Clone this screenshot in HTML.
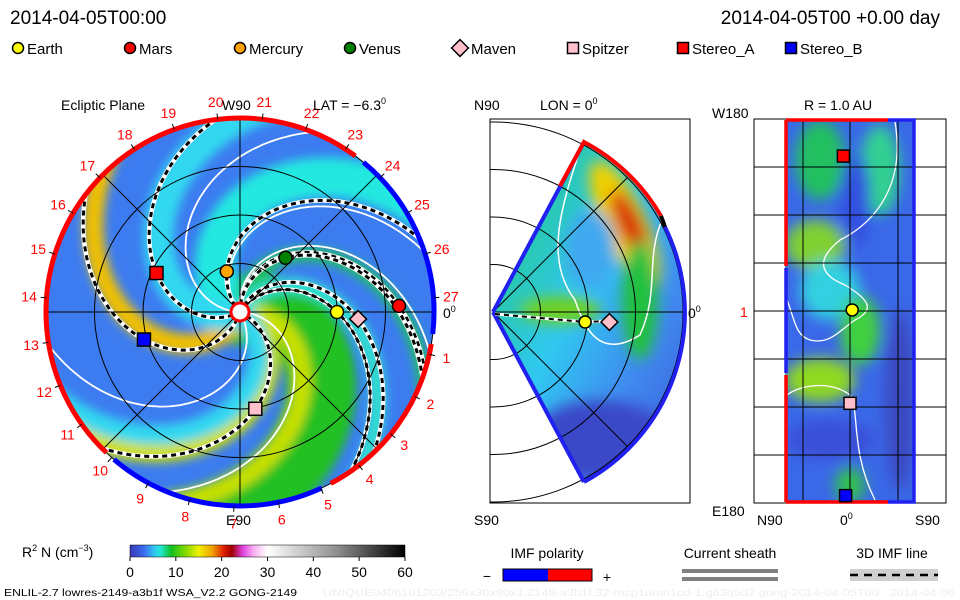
<!DOCTYPE html>
<html><head><meta charset="utf-8">
<style>
body{margin:0;background:#fff;}
svg{display:block;font-family:"Liberation Sans",sans-serif;}
</style></head>
<body>
<svg id="s" width="960" height="600" viewBox="0 0 960 600" xmlns="http://www.w3.org/2000/svg">
<defs>
<filter id="bl" x="-20%" y="-20%" width="140%" height="140%"><feGaussianBlur stdDeviation="5"/></filter>
<filter id="bl2" x="-30%" y="-30%" width="160%" height="160%"><feGaussianBlur stdDeviation="7"/></filter>
<clipPath id="circ"><circle cx="240" cy="312" r="194"/></clipPath>
<clipPath id="wedge"><path d="M493,312 L584,142 A193,193 0 0 1 584,482 Z"/></clipPath>
<clipPath id="rectc"><rect x="785" y="120" width="130" height="382"/></clipPath>
<clipPath id="midbox"><rect x="490" y="119" width="200" height="384"/></clipPath>
<linearGradient id="cbar" x1="0" x2="1" y1="0" y2="0">
<stop offset="0" stop-color="#3a3ab8"/><stop offset="0.05" stop-color="#3a6af0"/><stop offset="0.09" stop-color="#30c8f0"/><stop offset="0.11" stop-color="#20e8d8"/><stop offset="0.15" stop-color="#10c020"/><stop offset="0.2" stop-color="#80d800"/><stop offset="0.25" stop-color="#f0f000"/><stop offset="0.3" stop-color="#f0a000"/><stop offset="0.34" stop-color="#e02000"/><stop offset="0.37" stop-color="#a00000"/><stop offset="0.41" stop-color="#e040e0"/><stop offset="0.45" stop-color="#f8b0f0"/><stop offset="0.5" stop-color="#ffffff"/><stop offset="0.75" stop-color="#909090"/><stop offset="1" stop-color="#000000"/>
</linearGradient>
<linearGradient id="midg" x1="0" x2="1" y1="0" y2="1">
<stop offset="0" stop-color="#20c860"/><stop offset="0.45" stop-color="#30c8f0"/><stop offset="0.7" stop-color="#4088f0"/><stop offset="1" stop-color="#3a50d0"/>
</linearGradient>
</defs>

<text x="10" y="24" font-size="19">2014-04-05T00:00</text>
<text x="940" y="24" font-size="19" text-anchor="end">2014-04-05T00 +0.00 day</text>

<g id="legend"></g>

<!-- left panel -->
<g>
<g clip-path="url(#circ)">
<circle cx="240" cy="312" r="194" fill="#3c7cf0"/>
<g id="arms" filter="url(#bl)"></g>
<g id="sheets"></g>
<g id="imf"></g>
</g>
<g id="grid" fill="none" stroke="#000" stroke-width="1"></g>
<g id="rim"></g>
<g id="clabels" fill="#f00" font-size="14"></g>
<circle cx="240" cy="312" r="9" fill="#fff" stroke="#f00" stroke-width="3"/>
<g id="planetsL"></g>
<text x="61" y="110" font-size="14">Ecliptic Plane</text>
<text x="222" y="110" font-size="14">W90</text>
<text x="313" y="110" font-size="14">LAT = −6.3<tspan font-size="9" dy="-6">0</tspan></text>
<text x="226" y="525" font-size="14">E90</text>
<text x="443" y="318" font-size="14">0<tspan font-size="9" dy="-6">0</tspan></text>
</g>

<!-- middle panel -->
<g>
<rect x="490" y="119" width="200" height="384" fill="none" stroke="#000"/>
<g clip-path="url(#wedge)">
<rect x="490" y="119" width="200" height="384" fill="url(#midg)"/>
<g filter="url(#bl2)">
<ellipse cx="625" cy="225" rx="22" ry="70" transform="rotate(-25 625 225)" fill="#f0d000"/>
<ellipse cx="630" cy="225" rx="12" ry="38" transform="rotate(-25 630 225)" fill="#d83010"/>
<ellipse cx="560" cy="310" rx="40" ry="14" fill="#70d020"/>
<ellipse cx="640" cy="300" rx="18" ry="60" fill="#20c040"/>
<ellipse cx="590" cy="250" rx="25" ry="40" fill="#40a8f0"/>
<ellipse cx="600" cy="440" rx="70" ry="40" fill="#3a48c8"/>
</g>
<path d="M580,150 C560,210 545,260 575,300 C585,330 600,360 640,335 C660,290 645,260 662,220" fill="none" stroke="#fff" stroke-width="1.5"/>
</g>
<g id="midgrid" clip-path="url(#midbox)" fill="none" stroke="#000"></g>
<path d="M493,312 L584,142" stroke="#2020f0" stroke-width="4" fill="none"/>
<path d="M493,312 L584,482" stroke="#2020f0" stroke-width="4" fill="none"/>
<path d="M560,186 L584,142 A193,193 0 0 1 661,216" stroke="#f00" stroke-width="4" fill="none"/>
<path d="M661,216 A193,193 0 0 1 665,227" stroke="#000" stroke-width="4" fill="none"/>
<path d="M665,227 A193,193 0 0 1 584,482" stroke="#2020f0" stroke-width="4" fill="none"/>
<path d="M495,314 L585,322 L607,321" stroke="#fff" stroke-width="3" fill="none"/>
<path d="M495,314 L585,322 L607,321" stroke="#000" stroke-width="2" stroke-dasharray="5,4" fill="none"/>
<g id="planetsM"></g>
<text x="474" y="110" font-size="14">N90</text>
<text x="540" y="110" font-size="14">LON = 0<tspan font-size="9" dy="-6">0</tspan></text>
<text x="474" y="525" font-size="14">S90</text>
<text x="688" y="318" font-size="14">0<tspan font-size="9" dy="-6">0</tspan></text>
</g>

<!-- right panel -->
<g>
<g clip-path="url(#rectc)">
<rect x="785" y="120" width="130" height="382" fill="#3a68e8"/>
<g filter="url(#bl2)">
<ellipse cx="820" cy="160" rx="25" ry="40" fill="#20c060"/>
<ellipse cx="880" cy="170" rx="20" ry="45" fill="#30d090"/>
<ellipse cx="855" cy="200" rx="15" ry="50" fill="#3050e0"/>
<ellipse cx="815" cy="245" rx="30" ry="25" fill="#80d030"/>
<ellipse cx="830" cy="290" rx="30" ry="30" fill="#30d0e0"/>
<ellipse cx="860" cy="330" rx="20" ry="35" fill="#40d040"/>
<ellipse cx="820" cy="380" rx="35" ry="22" fill="#90d820"/>
<ellipse cx="830" cy="440" rx="45" ry="20" fill="#3a50d8"/>
<ellipse cx="850" cy="485" rx="15" ry="18" fill="#30c050"/>
<ellipse cx="900" cy="400" rx="15" ry="90" fill="#3a48c0"/>
</g>
<path d="M895,122 C905,180 880,220 840,240 C815,260 820,275 845,285 C870,300 875,310 855,320 C840,330 830,345 810,340 C795,335 795,320 787,300" fill="none" stroke="#fff" stroke-width="1.3"/>
<path d="M787,395 C800,385 830,380 850,395 C860,410 850,450 875,500" fill="none" stroke="#fff" stroke-width="1.3"/>
</g>
<g id="rgrid" stroke="#000" fill="none"></g>
<path d="M786,120 L786,266 M786,375 L786,502 M786,120 L888,120 M786,502 L888,502" stroke="#f00" stroke-width="3.5" fill="none"/>
<path d="M786,268 L786,373 M888,120 L914,120 L914,502 L888,502" stroke="#2020f0" stroke-width="3.5" fill="none"/>
<g id="planetsR"></g>
<text x="804" y="110" font-size="14">R = 1.0 AU</text>
<text x="712" y="118" font-size="14">W180</text>
<text x="712" y="516" font-size="14">E180</text>
<text x="740" y="317" font-size="14" fill="#f00">1</text>
<text x="757" y="525" font-size="14">N90</text>
<text x="840" y="525" font-size="14">0<tspan font-size="9" dy="-6">0</tspan></text>
<text x="915" y="525" font-size="14">S90</text>
</g>

<!-- colorbar -->
<g>
<text x="22" y="557" font-size="14">R<tspan font-size="9" dy="-6">2</tspan><tspan dy="6"> N (cm</tspan><tspan font-size="9" dy="-6">−3</tspan><tspan dy="6">)</tspan></text>
<rect x="130" y="545" width="275" height="12" fill="url(#cbar)" stroke="#000" stroke-width="0.5"/>
<g id="cticks" font-size="14" text-anchor="middle"></g>
</g>
<g>
<text x="547" y="558" font-size="14" text-anchor="middle">IMF polarity</text>
<rect x="503" y="569" width="45" height="12" fill="#0000ff"/><rect x="548" y="569" width="44" height="12" fill="#ff0000"/>
<rect x="503" y="569" width="89" height="12" fill="none" stroke="#000"/>
<text x="487" y="581" font-size="14" text-anchor="middle">−</text><text x="607" y="582" font-size="14" text-anchor="middle">+</text>
</g>
<g>
<text x="730" y="558" font-size="14" text-anchor="middle">Current sheath</text>
<rect x="682" y="569" width="96" height="4" fill="#808080"/><rect x="682" y="577" width="96" height="4" fill="#808080"/>
</g>
<g>
<text x="892" y="558" font-size="14" text-anchor="middle">3D IMF line</text>
<rect x="850" y="569" width="88" height="12" fill="#d0d0d0"/>
<line x1="850" y1="575" x2="938" y2="575" stroke="#000" stroke-width="2.5" stroke-dasharray="8,6"/>
</g>
<text x="4" y="596" font-size="10" textLength="293" lengthAdjust="spacingAndGlyphs">ENLIL-2.7 lowres-2149-a3b1f WSA_V2.2 GONG-2149</text>
<text x="323" y="596" font-size="10" fill="#eeeeee" textLength="632" lengthAdjust="spacingAndGlyphs">UNIQUE0406101203/256x30x90x1.2149-a3b1f.32-mcp1umn1cd-1.g53q5d2.gong-2014-04-05T00&#160;&#160;&#160;2014-04-06</text>
</svg>
<script>
// ---- data ----
const bodyNames = ["Earth","Mars","Mercury","Venus","Maven","Spitzer","Stereo_A","Stereo_B"];
const bodyShapes = ["circle","circle","circle","circle","diamond","square","square","square"];
const bodyColors = ["#ffff00","#ff0000","#ffa500","#008000","#ffc0cb","#ffc0cb","#ff0000","#0000ff"];
const bodyR = [1.0,1.64,0.44,0.73,1.22,1.01,0.95,1.03];        // AU in ecliptic plane
const bodyLon = [0,2.2,108,50,-3.4,-81,155,196];              // degrees
const imfBodies = [0,1,2,3,4,5,6,7];
const armStart = [20,5,148,91,246,330,-40,200,60];
const armColors = ["#20c020","#c8e000","#20e8e0","#20c060","#f0c000","#d0e000","#30d8f0","#30d8f0","#30e0d0"];
const armWidth = [70,18,40,14,20,25,20,30,16];
const sheetStart = [128,-2,98,178,300];
const ringAU = [0.5,1,1.5,2];
const carrLabels = ["1","2","3","4","5","6","7","8","9","10","11","12","13","14","15","16","17","18","19","20","21","22","23","24","25","26","27"];
const rimSegStart = [-8,-63.6,-132,52];
const rimSegEnd = [-63.6,-132,-308,-8];
const rimSegColor = ["#ff0000","#0000ff","#ff0000","#0000ff"];
const cbTicks = [0,10,20,30,40,50,60];
const midBodiesX = [0.95,1.2]; // AU along r for Earth, Maven
const midBodiesY = [-0.05,-0.05];
const rightBodies = [6,0,5,7];
const rightLon = [-3,1,0,-2];
const rightLat = [146,1,-87,-174];

const NS="http://www.w3.org/2000/svg";
const cx=240, cy=312, AU=97, W=55;
function el(tag,attrs,parent){const e=document.createElementNS(NS,tag);for(const k in attrs)e.setAttribute(k,attrs[k]);parent.appendChild(e);return e;}
function px(r,deg){const a=deg*Math.PI/180;return [cx+r*AU*Math.cos(a),cy-r*AU*Math.sin(a)];}
function spiral(t0,r0,r1){let d="";for(let r=r0;r<=r1;r+=0.02){const p=px(r,t0-W*r);d+=(d?"L":"M")+p[0].toFixed(1)+","+p[1].toFixed(1);}return d;}
function marker(g,shape,color,x,y,s){
  let m;
  if(shape==="circle") m=el("circle",{cx:x,cy:y,r:s,fill:color,stroke:"#000","stroke-width":1.5},g);
  else if(shape==="square") m=el("rect",{x:x-s,y:y-s,width:2*s,height:2*s,fill:color,stroke:"#000","stroke-width":1.5},g);
  else m=el("path",{d:`M${x},${y-s*1.4}L${x+s*1.4},${y}L${x},${y+s*1.4}L${x-s*1.4},${y}Z`,fill:color,stroke:"#000","stroke-width":1.5},g);
  return m;
}

const arms=document.getElementById("arms");
armStart.forEach((t,i)=>{
  const p=el("path",{d:spiral(t,0.05,2.3),stroke:armColors[i],"stroke-width":armWidth[i],fill:"none","stroke-linecap":"round"},arms);
  
  
});
const sheets=document.getElementById("sheets");
sheetStart.forEach(t=>{
  const p=el("path",{d:spiral(t,0.1,2.3),stroke:"#fff","stroke-width":1.8,fill:"none"},sheets);
  
  
});
const imf=document.getElementById("imf");
imfBodies.forEach(i=>{
  const t0=bodyLon[i]+W*bodyR[i];
  const d=spiral(t0,0.08,2.3);
  const w=el("path",{d:d,stroke:"#fff","stroke-width":4.5,fill:"none"},imf);
  
  
  const b=el("path",{d:d,stroke:"#000","stroke-width":3,fill:"none","stroke-dasharray":"5,4"},imf);
  
  
});
const grid=document.getElementById("grid");
ringAU.forEach(r=>{const c=el("circle",{cx:cx,cy:cy,r:r*AU},grid);
  
  });
[0,45,90,135].forEach(a=>{const p1=px(2,a),p2=px(2,a+180);
  const l=el("line",{x1:p1[0],y1:p1[1],x2:p2[0],y2:p2[1]},grid);
  
  });
el("path",{d:spiral(W,0.05,2),stroke:"#000","stroke-width":1,fill:"none"},grid);
const rim=document.getElementById("rim");
function arc(a0,a1,r){const p0=px(r,a0),p1=px(r,a1);const large=Math.abs(a1-a0)>180?1:0;const sweep=a1<a0?1:0;return `M${p0[0]},${p0[1]}A${r*AU},${r*AU} 0 ${large} ${sweep} ${p1[0]},${p1[1]}`;}
rimSegStart.forEach((a,i)=>{
  const p=el("path",{d:arc(a-1.5,rimSegEnd[i]+1.5,2),stroke:rimSegColor[i],"stroke-width":5,fill:"none"},rim);
  
  
});
const cl=document.getElementById("clabels");
carrLabels.forEach((t,k)=>{
  const a=-12.6-13.2*k; const p=px(2.18,a);
  const tx=el("text",{x:p[0].toFixed(1),y:(p[1]+5).toFixed(1),"text-anchor":"middle"},cl);
  tx.textContent=t;
  
  
  const q0=px(2,a),q1=px(2.06,a);
  el("line",{x1:q0[0],y1:q0[1],x2:q1[0],y2:q1[1],stroke:"#000"},cl);
});
const pl=document.getElementById("planetsL");
bodyNames.forEach((n,i)=>{const p=px(bodyR[i],bodyLon[i]);
  const m=marker(pl,bodyShapes[i],bodyColors[i],p[0],p[1],bodyShapes[i]==="diamond"?6:6.5);
  
  });
const lg=document.getElementById("legend");
const legX=[18,130,240,350,460,573,683,791];
bodyNames.forEach((n,i)=>{
  const m=marker(lg,bodyShapes[i],bodyColors[i],legX[i],48,bodyShapes[i]==="diamond"?6:5.5);
  
  
  const t=el("text",{x:legX[i]+(bodyShapes[i]==="diamond"?11:9),y:54,"font-size":15},lg);
  t.textContent=n;
  
  
});
const mg=document.getElementById("midgrid");
ringAU.forEach(r=>{const c=el("circle",{cx:493,cy:312,r:r*95},mg);
  
  });
[45,0,-45].forEach(a=>{const t=a*Math.PI/180;
  const l=el("line",{x1:493,y1:312,x2:493+190*Math.cos(t),y2:312-190*Math.sin(t)},mg);
  
  });
const pm=document.getElementById("planetsM");
[0,4].forEach((bi,j)=>{const x=493+midBodiesX[j]*97, y=312-midBodiesY[j]*200;
  const m=marker(pm,bodyShapes[bi],bodyColors[bi],x,y,6);
  
  });
const rg=document.getElementById("rgrid");
el("rect",{x:754,y:119,width:192,height:384},rg);
for(let k=1;k<8;k++){const y=119+48*k;const l=el("line",{x1:754,y1:y,x2:946,y2:y},rg);
  
  }
[803,850,898].forEach(x=>{const l=el("line",{x1:x,y1:119,x2:x,y2:503},rg);
  
  });
const pr=document.getElementById("planetsR");
rightBodies.forEach((bi,j)=>{const x=850+rightLon[j]*2.2, y=311-rightLat[j]*(191/180);
  const m=marker(pr,bodyShapes[bi],bodyColors[bi],x,y,6);
  
  });
const ct=document.getElementById("cticks");
cbTicks.forEach(v=>{const x=130+v/60*275;
  el("line",{x1:x,y1:557,x2:x,y2:561,stroke:"#000"},ct);
  const t=el("text",{x:x,y:577},ct);t.textContent=v;
  
  });
</script>
</body></html>
